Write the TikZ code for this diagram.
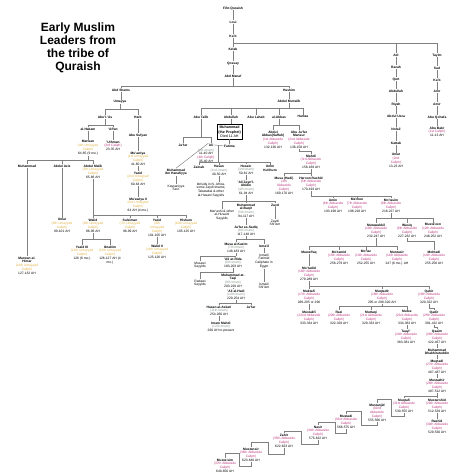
\documentclass[tikz,border=0pt]{standalone}
\usepackage{fontspec}
\setmainfont{Liberation Sans}
\usetikzlibrary{calc}
\definecolor{umy}{HTML}{E2B445}
\definecolor{abb}{HTML}{BE3A82}
\definecolor{imm}{HTML}{8C9A8C}
\definecolor{lnc}{HTML}{808080}
\newcommand\cU[1]{\textcolor{umy}{#1}}
\newcommand\cA[1]{\textcolor{abb}{#1}}
\newcommand\cI[1]{\textcolor{imm}{#1}}
\newcommand\bb[1]{\textbf{#1}}
\begin{document}
\begin{tikzpicture}[x=1pt,y=-1pt,
 tx/.style={font=\fontsize{3.3}{3.8}\selectfont, align=center, inner sep=0.3pt, anchor=north},
 ln/.style={draw=lnc, line width=0.45pt}]
\newcommand\nd[4]{\node[tx] (#1) at (#2,#3-1.8) {#4};}
\newcommand\famly[3]{\draw[ln] (#1.south) -- (#1.south |- 0,#2);
  \foreach \ch in {#3}{\draw[ln] (#1.south |- 0,#2) -| (\ch.north);}}
\newcommand\lnk[2]{\draw[ln] (#1.south) -- (#1.south |- #2.north);}
\newcommand\stair[5]{\draw[ln] (#1.south) -- (#1.south |- 0,#3) -- (#4,#3) -- (#4,#5) -- (#2.north |- 0,#5) -- (#2.north);}
\fill[white] (0,0) rectangle (474,474);
\useasboundingbox (0,0) rectangle (474,474);
% title
\node[font=\fontsize{12}{13}\selectfont\bfseries, align=center, anchor=north, inner sep=0pt] (title) at (78,22.3) {Early Muslim\\Leaders from\\the tribe of\\Quraish};
% top chain
\nd{fihr}{233}{8}{\bb{Fihr-Quraish}}
\nd{loui}{233}{22}{\bb{Loui}}
\nd{kab}{233}{36}{\bb{Ka'b}}
\nd{kelab}{233}{49}{\bb{Kelab}}
\nd{qossay}{233}{63}{\bb{Qossay}}
\nd{abdmanaf}{233}{76}{\bb{Abd Manaf}}
\lnk{fihr}{loui}\lnk{loui}{kab}\lnk{kab}{kelab}\lnk{kelab}{qossay}\lnk{qossay}{abdmanaf}
% Adi chain
\nd{adi}{396}{55}{\bb{Adi}}
\nd{razah}{396}{67}{\bb{Razah}}
\nd{qurt}{396}{79}{\bb{Qurt}}
\nd{abdullahA}{396}{91}{\bb{Abdullah}}
\nd{riyah}{396}{104}{\bb{Riyah}}
\nd{abduluzza}{396}{116}{\bb{Abdul Uzza}}
\nd{nofail}{396}{129}{\bb{Nofail}}
\nd{kattab}{396}{143}{\bb{Kattab}}
\nd{umar}{396}{155}{\bb{Umar}\\\cA{(2nd}\\\cA{Caliph)}\\13-23 AH}
\lnk{adi}{razah}\lnk{razah}{qurt}\lnk{qurt}{abdullahA}\lnk{abdullahA}{riyah}\lnk{riyah}{abduluzza}\lnk{abduluzza}{nofail}\lnk{nofail}{kattab}\lnk{kattab}{umar}
% Tayim chain
\nd{tayim}{437}{55}{\bb{Tayim}}
\nd{sad}{437}{68}{\bb{Sad}}
\nd{kabB}{437}{80}{\bb{Ka'b}}
\nd{amr}{437}{92}{\bb{Amr}}
\nd{amir}{437}{104}{\bb{Amir}}
\nd{abuqohafa}{437}{117}{\bb{Abu Qohafa}}
\nd{abubakr}{437}{128}{\bb{Abu Bakr}\\\cA{(1st Caliph)}\\11-13 AH}
\lnk{tayim}{sad}\lnk{sad}{kabB}\lnk{kabB}{amr}\lnk{amr}{amir}\lnk{amir}{abuqohafa}\lnk{abuqohafa}{abubakr}
\famly{kab}{43}{adi,tayim}
% Abd Manaf
\nd{abdshams}{121}{90}{\bb{Abd Shams}}
\nd{hashim}{289}{90}{\bb{Hashim}}
\famly{abdmanaf}{86}{abdshams,hashim}
% Umayyads
\nd{umayya}{120}{102}{\bb{Umayya}}
\lnk{abdshams}{umayya}
\nd{abulas}{105}{117}{\bb{Abu'l-'As}}
\nd{harb}{138}{117}{\bb{Harb}}
\famly{umayya}{109}{abulas,harb}
\nd{hakam}{88}{129}{\bb{al-Hakam}}
\nd{affan}{113}{129}{\bb{'Affan}}
\famly{abulas}{125}{hakam,affan}
\nd{marwan}{88}{142}{\bb{Marwan}\\\cU{(4th Umayyad}\\\cU{Caliph)}\\64-65 (9 mo.)}
\nd{uthman}{113}{142}{\bb{'Uthman}\\\cA{(3rd Caliph)}\\23-35 AH}
\lnk{hakam}{marwan}\lnk{affan}{uthman}
\nd{abusufyan}{138}{135}{\bb{Abu Sufyan}}
\nd{muawiya}{138}{153}{\bb{Mu'awiya}\\\cU{(1st Umayyad}\\\cU{Caliph)}\\41-60 AH}
\nd{yazid}{138}{173}{\bb{Yazid}\\\cU{(2nd Umayyad}\\\cU{Caliph)}\\60-64 AH}
\nd{muawiyaII}{138}{199}{\bb{Mu'awiya II}\\\cU{(3rd Umayyad}\\\cU{Caliph)}\\64 AH (4 mo.)}
\lnk{harb}{abusufyan}\lnk{abusufyan}{muawiya}\lnk{muawiya}{yazid}\lnk{yazid}{muawiyaII}
\nd{muhammadM}{27}{166}{\bb{Muhammad}}
\nd{abdulaziz}{62}{166}{\bb{Abdul Aziz}}
\nd{abdulmalik}{93}{166}{\bb{Abdul Malik}\\\cU{(5th Umayyad}\\\cU{Caliph)}\\65-86 AH}
\famly{marwan}{160}{muhammadM,abdulaziz,abdulmalik}
\nd{umarII}{62}{220}{\bb{Umar}\\\cU{(8th Umayyad}\\\cU{Caliph)}\\99-101 AH}
\lnk{abdulaziz}{umarII}
\nd{marwanII}{27}{258}{\bb{Marwan al-}\\\bb{Himar}\\\cU{(14th Umayyad}\\\cU{Caliph)}\\127-132 AH}
\lnk{muhammadM}{marwanII}
\nd{walid}{93}{220}{\bb{Walid}\\\cU{(6th Umayyad}\\\cU{Caliph)}\\86-96 AH}
\nd{suleiman}{130}{220}{\bb{Suleiman}\\\cU{(7th Umayyad}\\\cU{Caliph)}\\96-99 AH}
\nd{yazidII}{157}{220}{\bb{Yazid}\\\cU{(9th}\\\cU{Umayyad}\\\cU{Caliph)}\\101-105 AH}
\nd{hisham}{186}{220}{\bb{Hisham}\\\cU{(10th Umayyad}\\\cU{Caliph)}\\105-125 AH}
\famly{abdulmalik}{215}{walid,suleiman,yazidII,hisham}
\nd{yazidIII}{82}{247}{\bb{Yazid III}\\\cU{(12th Umayyad}\\\cU{Caliph)}\\126 (6 mo.)}
\nd{ibrahim}{110}{247}{\bb{Ibrahim}\\\cU{(13th Umayyad}\\\cU{Caliph)}\\126-127 AH (4\\mo.)}
\famly{walid}{239}{yazidIII,ibrahim}
\nd{walidII}{157}{246}{\bb{Walid II}\\\cU{(11th Umayyad}\\\cU{Caliph)}\\125-126 AH}
\lnk{yazidII}{walidII}
% Hashim
\nd{abdmuttalib}{289}{101}{\bb{Abdul Muttalib}}
\lnk{hashim}{abdmuttalib}
\nd{abutalib}{201}{117}{\bb{Abu Talib}}
\nd{abdullah}{231}{117}{\bb{Abdullah}}
\nd{abulahab}{256}{117}{\bb{Abu Lahab}}
\nd{abbas}{279}{117}{\bb{al-Abbas}}
\nd{hamza}{303}{117}{\bb{Hamza}}
\famly{abdmuttalib}{108}{abutalib,abdullah,abulahab,abbas,hamza}
\nd{jafar}{183}{145}{\bb{Ja'far}}
\nd{ali}{211}{145}{\bb{Ali}}
\famly{abutalib}{137}{jafar,ali}
\node[tx, draw=black, line width=0.4pt, inner xsep=1.5pt, inner ysep=2pt, font=\fontsize{3.6}{4.2}\selectfont] (prophet) at (229.5,124) {\bb{Muhammad}\\\bb{(the Prophet)}\\Died 11 AH};
\lnk{abdullah}{prophet}
\nd{fatima}{229.5}{146}{\bb{Fatima}}
\lnk{prophet}{fatima}
\draw[ln] (ali.east) -- (fatima.west);
\nd{alilab}{206}{150}{\cI{(1st Imam)}\\11-40 AH\\\cA{(4th Caliph)}\\35-40 AH}
\coordinate (af) at ($(ali.east)!0.5!(fatima.west)$);
\nd{zainab}{199}{167}{\bb{Zainab}}
\nd{hasan}{219}{167}{\bb{Hasan}\\\cI{(2nd Imam)}\\40-50 AH}
\nd{hosain}{246}{166}{\bb{Hosain}\\\cI{(3rd Imam)}\\50-61 AH}
\nd{ummk}{270}{167}{\bb{Umm}\\\bb{Kulthum}}
\draw[ln] (af) -- (af |- 0,162);
\foreach \ch in {zainab,hasan,hosain,ummk}{\draw[ln] (af |- 0,162) -| (\ch.north);}
\nd{hanaf}{176}{170}{\bb{Muhammad}\\\bb{ibn Hanafiyya}}
\nd{kays}{176}{186}{Kaysaniyya\\Sect}
\draw[ln] (ali.north west) -- (hanaf.north);
\lnk{hanaf}{kays}
\nd{hasanid}{211}{184}{Idrisids in N. Africa,\\some Zaydi Imams,\\Tabatabai \& other\\al-Hasani Sayyids}
\lnk{hasan}{hasanid}
\nd{zayn}{246}{182}{\bb{'Ali Zayn'l-}\\\bb{Abidin}\\\cI{(4th Imam)}\\61-94 AH}
\lnk{hosain}{zayn}
\nd{marashi}{222}{211}{Mar'ashi \& other\\al-Husaini\\Sayyids}
\nd{baqir}{246}{205}{\bb{Muhammad}\\\bb{al-Baqir}\\\cI{(5th Imam)}\\94-117 AH}
\nd{zayd}{275}{205}{\bb{Zayd}}
\famly{zayn}{201}{marashi,baqir,zayd}
\nd{zaydism}{275}{221}{Zaydi\\Shi'ism}
\lnk{zayd}{zaydism}
\nd{sadiq}{246}{227}{\bb{Ja'far as-Sadiq}\\\cI{(6th Imam)}\\117-148 AH}
\lnk{baqir}{sadiq}
\nd{musa}{236}{244}{\bb{Musa al-Kazim}\\\cI{(7th Imam)}\\148-183 AH}
\nd{ismail}{264}{246}{\bb{Isma'il}}
\famly{sadiq}{239}{musa,ismail}
\nd{fatimid}{264}{255}{Ismaili\\Fatimid\\Caliphate in\\Egypt}
\nd{ismshia}{264}{284}{Ismaili\\Shi'ism}
\lnk{ismail}{fatimid}\lnk{fatimid}{ismshia}
\nd{musawi}{200}{263}{Musawi\\Sayyids}
\nd{rida}{233}{259}{\bb{'Ali ar-Rida}\\\cI{(8th Imam)}\\183-203 AH}
\famly{musa}{256}{musawi,rida}
\nd{radawi}{200}{281}{Radawi\\Sayyids}
\nd{taqi}{233}{275}{\bb{Muhammad at-}\\\bb{Taqi}\\\cI{(9th Imam)}\\203-220 AH}
\famly{rida}{272}{radawi,taqi}
\nd{hadiI}{236}{291}{\bb{'Ali al-Hadi}\\\cI{(10th Imam)}\\220-254 AH}
\lnk{taqi}{hadiI}
\nd{askari}{219}{307}{\bb{Hasan al-Askari}\\\cI{(11th Imam)}\\254-260 AH}
\nd{jafarII}{251}{307}{\bb{Ja'far}}
\famly{hadiI}{303}{askari,jafarII}
\nd{mahdiI}{221}{323}{\bb{Imam Mahdi}\\\cI{(12th Imam)}\\260 AH to present}
\lnk{askari}{mahdiI}
% Abbasids
\nd{saffah}{273}{132}{\bb{Abdul}\\\bb{Abbas(Saffah)}\\\cA{(1st Abbaside}\\\cA{Caliph)}\\132-136 AH}
\nd{mansur}{299}{132}{\bb{Abu Ja'far}\\\bb{Mansur}\\\cA{(2nd Abbaside}\\\cA{Caliph)}\\136-158 AH}
\famly{abbas}{125}{saffah,mansur}
\nd{mahdi}{311}{156}{\bb{Mahdi}\\\cA{(3rd Abbaside}\\\cA{Caliph)}\\158-169 AH}
\famly{mansur}{151.5}{mahdi}
\nd{hadi}{284}{178}{\bb{Musa (Hadi)}\\\cA{(4th}\\\cA{Abbaside}\\\cA{Caliph)}\\169-170 AH}
\nd{haroon}{311}{178}{\bb{Haroon Rashid}\\\cA{(5th Abbaside}\\\cA{Caliph)}\\170-193 AH}
\famly{mahdi}{173}{hadi,haroon}
\nd{amin}{333}{200}{\bb{Amin}\\\cA{(6th Abbaside}\\\cA{Caliph)}\\193-198 AH}
\nd{mamun}{357}{200}{\bb{Ma'mun}\\\cA{(7th Abbaside}\\\cA{Caliph)}\\198-218 AH}
\nd{motasim}{391}{200}{\bb{Mo'tasim}\\\cA{(8th Abbaside}\\\cA{Caliph)}\\218-227 AH}
\famly{haroon}{196}{amin,mamun,motasim}
\nd{mutawakkil}{376}{225}{\bb{Mutawakkil}\\\cA{(10th Abbaside}\\\cA{Caliph)}\\232-247 AH}
\nd{wasiq}{407}{225}{\bb{Wasiq}\\\cA{(9th Abbaside}\\\cA{Caliph)}\\227-232 AH}
\nd{mustaeen}{433}{225}{\bb{Musta'een}\\\cA{(12th Abbaside}\\\cA{Caliph)}\\248-252 AH}
\famly{motasim}{218}{mutawakkil,wasiq,mustaeen}
\nd{muwaffaq}{309}{252}{\bb{Muwaffaq}}
\nd{motamid}{339}{252}{\bb{Mo'tamid}\\\cA{(15th Abbaside}\\\cA{Caliph)}\\256-279 AH}
\nd{motaz}{366}{252}{\bb{Mo'taz}\\\cA{(13th Abbaside}\\\cA{Caliph)}\\252-255 AH}
\nd{muntasir}{397}{252}{\bb{Muntasir}\\\cA{(11th Abbaside}\\\cA{Caliph)}\\247 (6 mo.) AH}
\famly{mutawakkil}{246}{muwaffaq,motamid,motaz,muntasir}
\nd{mohtadi}{434}{252}{\bb{Mohtadi}\\\cA{(14th Abbaside}\\\cA{Caliph)}\\255-256 AH}
\famly{wasiq}{241}{mohtadi}
\nd{motadid}{309}{268}{\bb{Mo'tadid}\\\cA{(16th Abbaside}\\\cA{Caliph)}\\279-289 AH}
\lnk{muwaffaq}{motadid}
\nd{muktafi}{309}{291}{\bb{Muktafi}\\\cA{(17th Abbaside}\\\cA{Caliph)}\\289-295 or 296}
\nd{muqtadir}{382}{291}{\bb{Muqtadir}\\\cA{(18th Abbaside}\\\cA{Caliph)}\\295 or 296-320 AH}
\nd{qahir}{429}{291}{\bb{Qahir}\\\cA{(19th Abbaside}\\\cA{Caliph)}\\320-322 AH}
\famly{motadid}{286}{muktafi,muqtadir,qahir}
\nd{mustakfi}{309}{312}{\bb{Mustakfi}\\\cA{(22nd Abbaside}\\\cA{Caliph)}\\333-334 AH}
\lnk{muktafi}{mustakfi}
\nd{razi}{339}{312}{\bb{Razi}\\\cA{(20th Abbaside}\\\cA{Caliph)}\\322-329 AH}
\nd{muttaqi}{371}{312}{\bb{Muttaqi}\\\cA{(21st Abbaside}\\\cA{Caliph)}\\329-333 AH}
\nd{mutee}{407}{312}{\bb{Mutee}\\\cA{(23rd Abbaside}\\\cA{Caliph)}\\334-363 AH}
\famly{muqtadir}{306}{razi,muttaqi,mutee}
\nd{qadir}{434}{312}{\bb{Qadir}\\\cA{(25th Abbaside}\\\cA{Caliph)}\\381-422 AH}
\famly{qahir}{308}{qadir}
\nd{taayi}{406}{331}{\bb{Taayi'}\\\cA{(24th Abbaside}\\\cA{Caliph)}\\363-381 AH}
\lnk{mutee}{taayi}
\nd{qaaim}{437}{331}{\bb{Qaaim}\\\cA{(26th Abbaside}\\\cA{Caliph)}\\422-467 AH}
\famly{qadir}{327.5}{qaaim}
\nd{dhakh}{437}{350}{\bb{Muhammad}\\\bb{Dhakhiratuddin}}
\lnk{qaaim}{dhakh}
\nd{muqtadi}{437}{361}{\bb{Muqtadi}\\\cA{(27th Abbaside}\\\cA{Caliph)}\\467-487 AH}
\lnk{dhakh}{muqtadi}
\nd{mustazhir}{437}{380}{\bb{Mustazhir}\\\cA{(28th Abbaside}\\\cA{Caliph)}\\487-512 AH}
\lnk{muqtadi}{mustazhir}
\nd{muqtafi}{404}{400}{\bb{Muqtafi}\\\cA{(31st Abbaside}\\\cA{Caliph)}\\530-555 AH}
\nd{mustarshid}{437}{400}{\bb{Mustarshid}\\\cA{(29th Abbaside}\\\cA{Caliph)}\\512-529 AH}
\famly{mustazhir}{396}{muqtafi,mustarshid}
\nd{rashid}{437}{421}{\bb{Rashid}\\\cA{(30th Abbaside}\\\cA{Caliph)}\\529-530 AH}
\lnk{mustarshid}{rashid}
\nd{mustanjid}{377}{405}{\bb{Mustanjid}\\\cA{(32nd}\\\cA{Abbaside}\\\cA{Caliph)}\\555-566 AH}
\stair{muqtafi}{mustanjid}{416}{391}{399}
\nd{mustadi}{346}{416}{\bb{Mustadi}\\\cA{(33rd Abbaside}\\\cA{Caliph)}\\566-575 AH}
\stair{mustanjid}{mustadi}{425}{361}{411}
\nd{nasir}{318}{427}{\bb{Nasir}\\\cA{(34th Abbaside}\\\cA{Caliph)}\\575-622 AH}
\stair{mustadi}{nasir}{433}{335}{422}
\nd{zahir}{284}{435}{\bb{Zahir}\\\cA{(35th Abbaside}\\\cA{Caliph)}\\622-623 AH}
\stair{nasir}{zahir}{444}{301}{431}
\nd{mustansir}{251}{449}{\bb{Mustansir}\\\cA{(36th Abbaside}\\\cA{Caliph)}\\623-640 AH}
\stair{zahir}{mustansir}{454}{268}{442}
\nd{mustasim}{225}{460}{\bb{Musta'sim}\\\cA{(37th Abbaside}\\\cA{Caliph)}\\640-656 AH}
\stair{mustansir}{mustasim}{466}{239}{453}
\end{tikzpicture}
\end{document}
